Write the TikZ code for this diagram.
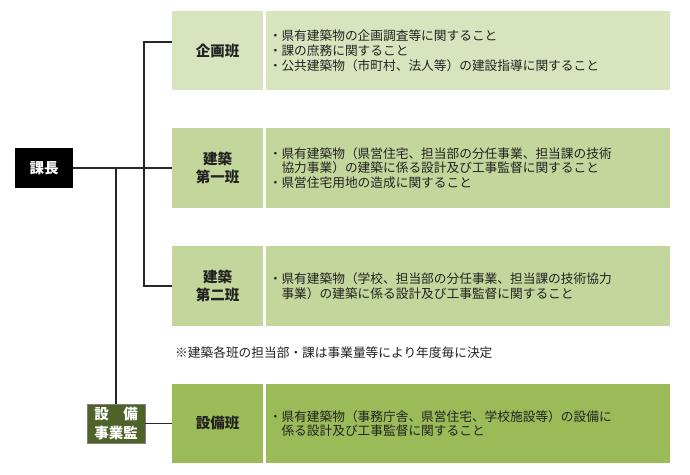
\documentclass[tikz,border=0pt]{standalone}
\usepackage{fontspec}
\setmainfont{Noto Sans CJK JP}
\definecolor{gA}{HTML}{D7E4BD}
\definecolor{gB}{HTML}{C3D69B}
\definecolor{gC}{HTML}{9BBB59}
\definecolor{gD}{HTML}{4F6228}
\definecolor{txt}{HTML}{222222}
\newcommand{\bul}{\makebox[0.75em][l]{\hspace{-0.22em}・}}
\newcommand{\ind}{\hspace{0.75em}}
\begin{document}
\begin{tikzpicture}[x=1pt,y=-1pt,
  labbox/.style={rectangle,draw=none,minimum width=91pt,minimum height=80pt,inner sep=0pt,
    align=center,font=\fontsize{14.5}{18}\selectfont\bfseries,text=txt},
  descbox/.style={rectangle,draw=none,minimum height=80pt,text width=392pt,inner xsep=6pt,inner ysep=0pt,
    align=left,font=\fontsize{12.7}{14.8}\selectfont,text=txt},
  headbox/.style={rectangle,draw=none,inner sep=0pt,align=center,text=white,
    font=\fontsize{14.5}{19}\selectfont\bfseries},
  conn/.style={draw=black!85,line width=1.2pt}]
\useasboundingbox (0,0) rectangle (690,474);
\fill[white] (0,0) rectangle (690,474);
% head nodes
\node[headbox,fill=black,minimum width=58pt,minimum height=40pt] (kacho) at (44,168) {課長};
\node[headbox,fill=gD,draw=black!50,line width=0.4pt,minimum width=58pt,minimum height=39pt] (kan) at (116,423.5) {設　備\\事業監};
% rows
\node[labbox,fill=gA,minimum height=79pt] (lab1) at (217.5,50.5) {企画班};
\node[descbox,fill=gA,minimum height=79pt] (desc1) at (468,50.5) {\bul 県有建築物の企画調査等に関すること\\\bul 課の庶務に関すること\\\bul 公共建築物（市町村、法人等）の建設指導に関すること};
\node[labbox,fill=gB] (lab2) at (217.5,168) {建築\\第一班};
\node[descbox,fill=gB] (desc2) at (468,168) {\bul 県有建築物（県営住宅、担当部の分任事業、担当課の技術\\\ind 協力事業）の建築に係る設計及び工事監督に関すること\\\bul 県営住宅用地の造成に関すること};
\node[labbox,fill=gB] (lab3) at (217.5,286) {建築\\第二班};
\node[descbox,fill=gB] (desc3) at (468,286) {\bul 県有建築物（学校、担当部の分任事業、担当課の技術協力\\\ind 事業）の建築に係る設計及び工事監督に関すること};
\node[labbox,fill=gC,minimum height=79pt] (lab4) at (217.5,423.5) {設備班};
\node[descbox,fill=gC,minimum height=79pt] (desc4) at (468,423.5) {\bul 県有建築物（事務庁舎、県営住宅、学校施設等）の設備に\\\ind 係る設計及び工事監督に関すること};
% note
\node[anchor=west,inner sep=0pt,font=\fontsize{12.7}{14}\selectfont,text=txt] (note) at (175,353) {※建築各班の担当部・課は事業量等により年度毎に決定};
% connectors
\coordinate (bustop) at (144,42);
\coordinate (busbot) at (144,286);
\draw[conn] (kacho.east) -- (lab2.west);
\draw[conn] (bustop -| lab1.west) -- (bustop) -- (busbot) -- (lab3.west);
\draw[conn] (kacho.east -| kan.north) -- (kan.north);
\draw[conn] (kan.east) -- (lab4.west);
\end{tikzpicture}
\end{document}
